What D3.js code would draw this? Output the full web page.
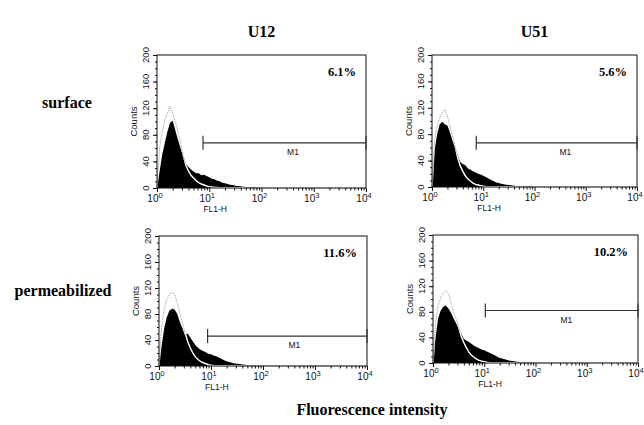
<!DOCTYPE html>
<html>
<head>
<meta charset="utf-8">
<script src="https://cdn.jsdelivr.net/npm/d3@7"></script>
<style>
  body { margin: 0; background: #fff; }
  svg { display: block; }
</style>
</head>
<body>
<div id="chart"></div>
<script>
const cellLines = ['U12', 'U51']
const treatments = ['surface', 'permeabilized']

// histogram channels, in decades (log10 of FL1-H)
const logBins = [0.00, 0.05, 0.10, 0.15, 0.20, 0.25, 0.30, 0.35, 0.40, 0.45,
  0.50, 0.55, 0.60, 0.65, 0.70, 0.75, 0.80, 0.85, 0.90, 0.95,
  1.00, 1.05, 1.10, 1.15, 1.20, 1.25, 1.30, 1.35, 1.40, 1.45,
  1.50, 1.55, 1.60, 1.65, 1.70, 1.75, 1.80, 1.85, 1.90, 1.95, 2.00]

// stained cells (black fill)
const sampleU12Surface = [0, 25, 50, 68, 85, 98, 101, 87, 73, 60,
  47, 37, 32, 28, 25, 22, 22, 19, 20, 18,
  16, 14, 13, 11, 10, 8, 7, 6, 5, 4.5,
  3.5, 3, 2.5, 2, 1.5, 1.2, 1, 0.8, 0.6, 0.4, 0]
const sampleU51Surface = [0, 55, 80, 95, 99, 95, 93, 83, 70, 60,
  48, 38, 35, 33, 28, 26, 24, 22, 20, 19,
  17, 15, 13, 11, 9, 7, 6, 5, 4, 3.5,
  3, 2.5, 2, 1.6, 1.4, 1.2, 1, 1, 0.8, 0.5, 0]
const sampleU12Perm = [0, 30, 58, 75, 85, 88, 87, 80, 68, 58,
  47, 50, 44, 38, 32, 28, 25, 23, 21, 19,
  18, 16, 15, 13, 11, 9, 7.5, 6, 5, 4,
  3.5, 3, 2.5, 2, 1.5, 1.2, 1, 0.8, 0.5, 0.3, 0]
const sampleU51Perm = [0, 40, 70, 82, 88, 90, 85, 79, 70, 62,
  54, 46, 38, 35, 33, 30, 27, 25, 23, 21,
  20, 18, 16, 14, 12, 10, 8, 7, 6, 4.5,
  3.5, 3, 2.5, 2, 1.5, 1.2, 1, 0.8, 0.6, 0.4, 0]

// isotype control (dotted outline)
const controlU12Surface = [0, 60, 85, 102, 113, 123, 112, 100, 85, 68,
  50, 35, 26, 19, 15, 11, 8, 6, 4.5, 3,
  2, 1.5, 1, 0.8, 0.6, 0.5, 0.5, 0.4, 0.4, 0.4,
  0.3, 0.3, 0.3, 0.3, 0.2, 0.2, 0.2, 0.2, 0.1, 0.1, 0]
const controlU51Surface = [0, 70, 92, 105, 112, 118, 108, 92, 78, 62,
  45, 32, 24, 17, 12, 9, 6, 4, 3, 2,
  1.2, 0.8, 0.6, 0.5, 0.5, 0.4, 0.4, 0.4, 0.3, 0.3,
  0.3, 0.3, 0.2, 0.2, 0.2, 0.2, 0.1, 0.1, 0.1, 0.1, 0]
const controlU12Perm = [0, 60, 88, 102, 110, 114, 110, 98, 82, 66,
  52, 38, 28, 20, 14, 10, 7, 5, 3.5, 2,
  1.2, 0.8, 0.6, 0.5, 0.5, 0.4, 0.4, 0.4, 0.3, 0.3,
  0.3, 0.3, 0.2, 0.2, 0.2, 0.2, 0.1, 0.1, 0.1, 0.1, 0]
const controlU51Perm = [0, 62, 90, 102, 110, 114, 108, 95, 80, 68,
  56, 42, 32, 24, 17, 12, 9, 6, 4, 3,
  2, 1.2, 0.8, 0.6, 0.5, 0.5, 0.4, 0.4, 0.3, 0.3,
  0.3, 0.3, 0.2, 0.2, 0.2, 0.2, 0.1, 0.1, 0.1, 0.1, 0]

// M1 gate: start channel, drawn height (counts), positive fraction
const markerStart = [7.6, 7.3, 8.6, 10.5]
const markerLevel = [68, 67, 46, 82]
const markerPercent = ['6.1%', '5.6%', '11.6%', '10.2%']

const xTicks = [1, 10, 100, 1000, 10000]
const yTicks = [0, 40, 80, 120, 160, 200]

const panels = [
  { sample: sampleU12Surface, control: controlU12Surface },
  { sample: sampleU51Surface, control: controlU51Surface },
  { sample: sampleU12Perm, control: controlU12Perm },
  { sample: sampleU51Perm, control: controlU51Perm }
]

// plot frames, row by row
const frames = [
  { left: 157, right: 366, top: 55, bottom: 188 },
  { left: 432, right: 637, top: 55, bottom: 187 },
  { left: 159, right: 367, top: 236, bottom: 366 },
  { left: 433, right: 638, top: 235, bottom: 363 }
]

const sans = '"Liberation Sans", Arial, sans-serif'
const serif = '"Liberation Serif", "Times New Roman", serif'

const svg = d3.select('#chart')
  .append('svg')
  .attr('width', 644)
  .attr('height', 425)
svg.append('rect')
  .attr('width', 644)
  .attr('height', 425)
  .attr('fill', '#fff')

// column and row headings
svg.selectAll('.col-title')
  .data(cellLines)
  .enter()
  .append('text')
  .attr('x', (d, i) => (frames[i].left + frames[i].right) / 2)
  .attr('y', 37)
  .attr('text-anchor', 'middle')
  .attr('font-family', serif)
  .attr('font-weight', 'bold')
  .attr('font-size', 16)
  .text((d) => d)

svg.selectAll('.row-title')
  .data(treatments)
  .enter()
  .append('text')
  .attr('x', (d, i) => i === 0 ? 67 : 63)
  .attr('y', (d, i) => i === 0 ? 108 : 296)
  .attr('text-anchor', 'middle')
  .attr('font-family', serif)
  .attr('font-weight', 'bold')
  .attr('font-size', 16)
  .text((d) => d)

svg.append('text')
  .attr('x', 372)
  .attr('y', 415)
  .attr('text-anchor', 'middle')
  .attr('font-family', serif)
  .attr('font-weight', 'bold')
  .attr('font-size', 16)
  .text('Fluorescence intensity')

panels.forEach((p, i) => drawPanel(p, frames[i], i))

function drawPanel (p, f, i) {
  let x = d3.scaleLog().domain([1, 1e4]).range([f.left, f.right])
  let y = d3.scaleLinear().domain([0, 200]).range([f.bottom, f.top])
  let g = svg.append('g')

  let pts = (vals) => logBins.map((b, k) => [Math.pow(10, b), vals[k]])
  let area = d3.area()
    .x((d) => x(d[0]))
    .y0(y(0))
    .y1((d) => y(d[1]))
  let line = d3.line()
    .x((d) => x(d[0]))
    .y((d) => y(d[1]))

  // clip to the black histogram so the control shows white on top of it
  g.append('clipPath')
    .attr('id', 'fill-' + i)
    .append('path')
    .attr('d', area(pts(p.sample)))

  g.append('path')
    .attr('d', area(pts(p.sample)))
    .attr('fill', '#000')
  g.append('path')
    .attr('d', line(pts(p.control).concat([[1e4, 0]])))
    .attr('fill', 'none')
    .attr('stroke', '#8a8a8a')
    .attr('stroke-width', 1)
    .attr('stroke-dasharray', '1 1.3')
  g.append('path')
    .attr('d', line(pts(p.control)))
    .attr('fill', 'none')
    .attr('stroke', '#fff')
    .attr('stroke-width', 1.4)
    .attr('clip-path', `url(#fill-${i})`)

  // frame
  g.append('rect')
    .attr('x', f.left)
    .attr('y', f.top)
    .attr('width', f.right - f.left)
    .attr('height', f.bottom - f.top)
    .attr('fill', 'none')
    .attr('stroke', '#111')
    .attr('stroke-width', 1)

  // x axis: decades plus log minor ticks
  let xMajor = g.append('g')
    .attr('transform', `translate(0,${f.bottom})`)
    .call(d3.axisBottom(x).tickValues(xTicks).tickSize(4).tickFormat(''))
  let xMinor = g.append('g')
    .attr('transform', `translate(0,${f.bottom})`)
    .call(d3.axisBottom(x).tickValues(x.ticks().filter((t) => xTicks.indexOf(t) < 0)).tickSize(2.5).tickFormat(''))
  let yMajor = g.append('g')
    .attr('transform', `translate(${f.left},0)`)
    .call(d3.axisLeft(y).tickValues(yTicks).tickSize(4).tickFormat(''))
  let yMinor = g.append('g')
    .attr('transform', `translate(${f.left},0)`)
    .call(d3.axisLeft(y).tickValues(y.ticks(20)).tickSize(2).tickFormat(''))
  ;[xMajor, xMinor, yMajor, yMinor].forEach((a) => {
    a.select('.domain').remove()
    a.selectAll('line').attr('stroke', '#111')
  })

  // decade labels 10^n
  let lab = g.selectAll('.xlab')
    .data(xTicks)
    .enter()
    .append('text')
    .attr('x', (d) => x(d) - 2)
    .attr('y', f.bottom + 14)
    .attr('text-anchor', 'middle')
    .attr('font-family', sans)
    .attr('font-size', 10)
    .attr('fill', '#111')
  lab.append('tspan').text('10')
  lab.append('tspan')
    .attr('dy', -4)
    .attr('font-size', 7.5)
    .text((d) => Math.round(Math.log10(d)))

  g.append('text')
    .attr('x', x(13))
    .attr('y', f.bottom + 24)
    .attr('text-anchor', 'middle')
    .attr('font-family', sans)
    .attr('font-size', 8.5)
    .attr('fill', '#111')
    .text('FL1-H')

  // rotated count labels
  g.selectAll('.ylab')
    .data(yTicks)
    .enter()
    .append('text')
    .attr('transform', (d) => `translate(${f.left - 8},${y(d)}) rotate(-90)`)
    .attr('text-anchor', 'middle')
    .attr('font-family', sans)
    .attr('font-size', 9.5)
    .attr('fill', '#111')
    .text((d) => d)
  g.append('text')
    .attr('transform', `translate(${f.left - 20},${y(100)}) rotate(-90)`)
    .attr('text-anchor', 'middle')
    .attr('font-family', sans)
    .attr('font-size', 9.5)
    .attr('fill', '#111')
    .text('Counts')

  // M1 marker
  let my = y(markerLevel[i])
  let mx0 = x(markerStart[i])
  let mx1 = x(1e4)
  g.append('path')
    .attr('d', `M${mx0},${my}H${mx1}M${mx0},${my - 7}V${my + 7}M${mx1},${my - 7}V${my + 7}`)
    .attr('stroke', '#333')
    .attr('stroke-width', 1.2)
    .attr('fill', 'none')
  g.append('text')
    .attr('x', x(400))
    .attr('y', my + 12)
    .attr('text-anchor', 'middle')
    .attr('font-family', sans)
    .attr('font-size', 8.5)
    .attr('fill', '#111')
    .text('M1')

  g.append('text')
    .attr('x', f.right - 10)
    .attr('y', f.top + 21)
    .attr('text-anchor', 'end')
    .attr('font-family', serif)
    .attr('font-weight', 'bold')
    .attr('font-size', 12.5)
    .text(markerPercent[i])
}
</script>
</body>
</html>
